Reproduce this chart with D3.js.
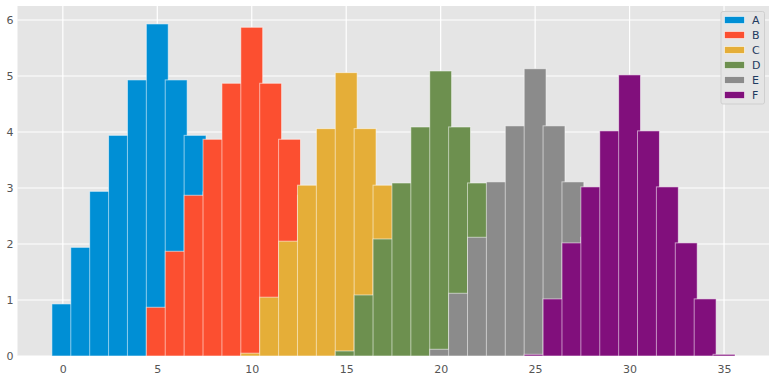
<!DOCTYPE html>
<html>
<head>
<meta charset="utf-8">
<script src="https://cdn.jsdelivr.net/npm/d3@7"></script>
<style>
  body { margin: 0; background: #fff; }
  svg { display: block; font-family: "DejaVu Sans", sans-serif; }
</style>
</head>
<body>
<svg id="chart" width="775" height="377"></svg>
<script>
const seriesNames = ["A", "B", "C", "D", "E", "F"];
const colors = ["#008fd5", "#fc4f30", "#e5ae38", "#6d904f", "#8b8b8b", "#810f7c"];

// bar positions for each series
const xA = [0, 1, 2, 3, 4, 5, 6, 7, 8, 9, 10];
const xB = [5, 6, 7, 8, 9, 10, 11, 12, 13, 14, 15];
const xC = [10, 11, 12, 13, 14, 15, 16, 17, 18, 19, 20];
const xD = [15, 16, 17, 18, 19, 20, 21, 22, 23, 24, 25];
const xE = [20, 21, 22, 23, 24, 25, 26, 27, 28, 29, 30];
const xF = [25, 26, 27, 28, 29, 30, 31, 32, 33, 34, 35];

// bar heights
const valuesA = [0.93, 1.94, 2.94, 3.94, 4.93, 5.93, 4.93, 3.94, 2.93, 1.93, 0.93];
const valuesB = [0.87, 1.87, 2.87, 3.87, 4.87, 5.87, 4.87, 3.87, 2.87, 1.87, 0.87];
const valuesC = [0.05, 1.05, 2.05, 3.05, 4.06, 5.06, 4.06, 3.05, 2.05, 1.05, 0.05];
const valuesD = [0.09, 1.09, 2.09, 3.09, 4.09, 5.09, 4.09, 3.09, 2.09, 1.09, 0.09];
const valuesE = [0.12, 1.12, 2.12, 3.11, 4.11, 5.13, 4.11, 3.11, 2.12, 1.12, 0.12];
const valuesF = [0.03, 1.02, 2.02, 3.02, 4.02, 5.02, 4.02, 3.02, 2.02, 1.02, 0.03];

const xTicks = [0, 5, 10, 15, 20, 25, 30, 35];
const yTicks = [0, 1, 2, 3, 4, 5, 6];

const positions = [xA, xB, xC, xD, xE, xF];
const values = [valuesA, valuesB, valuesC, valuesD, valuesE, valuesF];

const BAR_WIDTH = 1.16;
const LEFT = 17.5, RIGHT = 769, TOP = 6, BOTTOM = 356;

const svg = d3.select("#chart");

const x = d3.scaleLinear().domain([-2.4, 37.38]).range([LEFT, RIGHT]);
const y = d3.scaleLinear().domain([0, 6.25]).range([BOTTOM, TOP]);

// plot background
svg.append("rect")
  .attr("x", LEFT).attr("y", TOP)
  .attr("width", RIGHT - LEFT).attr("height", BOTTOM - TOP)
  .attr("fill", "#e5e5e5");

// grid lines
svg.append("g").selectAll("line")
  .data(xTicks)
  .join("line")
  .attr("x1", d => x(d)).attr("x2", d => x(d))
  .attr("y1", TOP).attr("y2", BOTTOM)
  .attr("stroke", "#fff").attr("stroke-width", 1.2);

svg.append("g").selectAll("line")
  .data(yTicks)
  .join("line")
  .attr("x1", LEFT).attr("x2", RIGHT)
  .attr("y1", d => y(d)).attr("y2", d => y(d))
  .attr("stroke", "#fff").attr("stroke-width", 1.2);

// bars, one series after the other so later ones sit on top
seriesNames.forEach((name, i) => {
  const data = positions[i].map((p, j) => ({ pos: p, value: values[i][j] }));
  svg.append("g")
    .attr("class", "series-" + name)
    .selectAll("rect")
    .data(data)
    .join("rect")
    .attr("x", d => x(d.pos - BAR_WIDTH / 2))
    .attr("y", d => y(d.value))
    .attr("width", d => x(d.pos + BAR_WIDTH / 2) - x(d.pos - BAR_WIDTH / 2))
    .attr("height", d => y(0) - y(d.value))
    .attr("fill", colors[i])
    .attr("stroke", "rgba(255,255,255,0.55)")
    .attr("stroke-width", 1);
});

// axes (labels only, no tick marks)
const xAxis = d3.axisBottom(x).tickValues(xTicks).tickFormat(d3.format("d")).tickSize(0).tickPadding(9);
svg.append("g")
  .attr("transform", `translate(0,${BOTTOM})`)
  .call(xAxis)
  .call(g => g.select(".domain").remove())
  .call(g => g.selectAll("text")
    .attr("fill", "#555").style("font-size", "11px").style("font-family", "DejaVu Sans, sans-serif"));

const yAxis = d3.axisLeft(y).tickValues(yTicks).tickFormat(d3.format("d")).tickSize(0).tickPadding(4);
svg.append("g")
  .attr("transform", `translate(${LEFT},0)`)
  .call(yAxis)
  .call(g => g.select(".domain").remove())
  .call(g => g.selectAll("text")
    .attr("fill", "#555").style("font-size", "11px").style("font-family", "DejaVu Sans, sans-serif"));

// legend
const legend = svg.append("g").attr("transform", "translate(721,11.5)");
legend.append("rect")
  .attr("width", 43.5).attr("height", 92.5)
  .attr("rx", 2)
  .attr("fill", "#e5e5e5")
  .attr("stroke", "#cfcfcf")
  .attr("stroke-width", 1);

const items = legend.selectAll("g.item")
  .data(seriesNames)
  .join("g")
  .attr("class", "item")
  .attr("transform", (d, i) => `translate(0,${8.5 + i * 15})`);

items.append("rect")
  .attr("x", 3.5).attr("y", -3.5)
  .attr("width", 20).attr("height", 7)
  .attr("fill", (d, i) => colors[i])
  .attr("stroke", "rgba(255,255,255,0.55)")
  .attr("stroke-width", 1);

items.append("text")
  .attr("x", 31)
  .attr("y", 4)
  .attr("fill", "#1f3a60")
  .style("font-size", "11px")
  .text(d => d);
</script>
</body>
</html>
